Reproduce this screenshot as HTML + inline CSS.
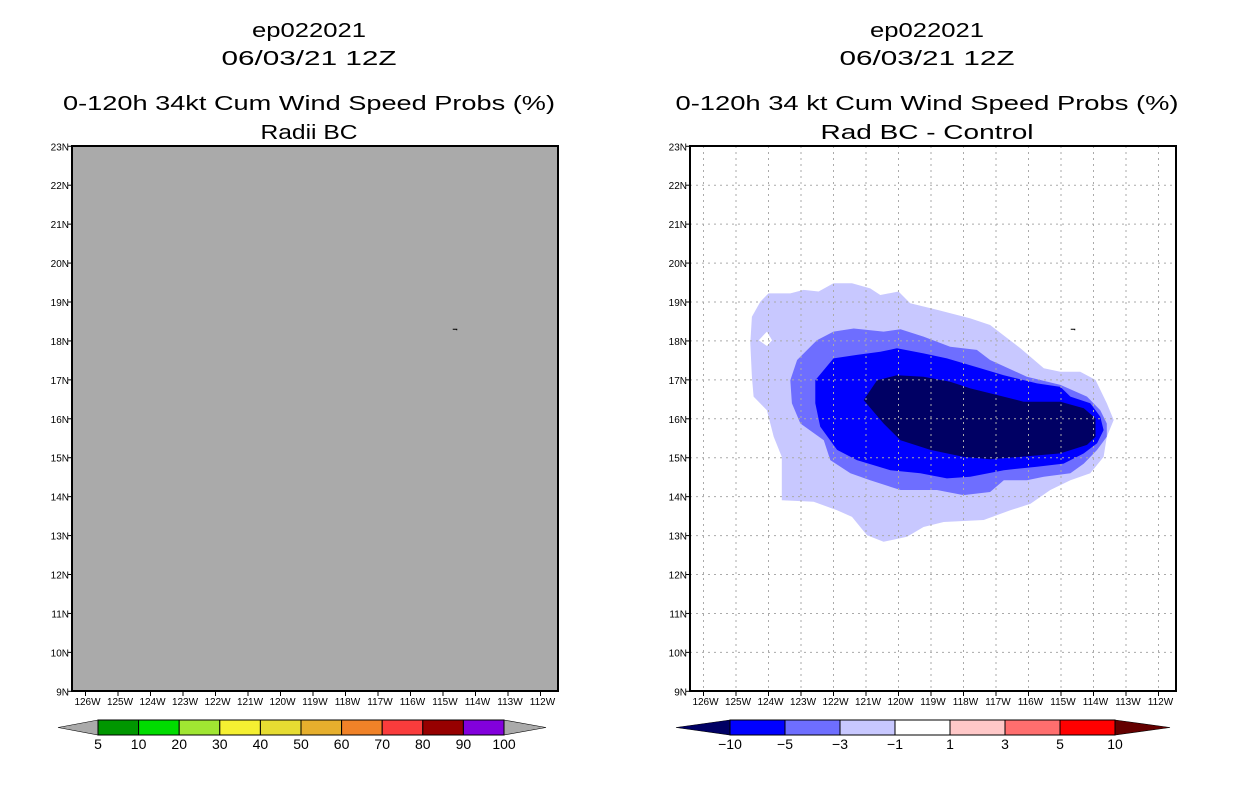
<!DOCTYPE html>
<html><head><meta charset="utf-8"><style>
body{margin:0;background:#fff;}
svg{display:block;font-family:"Liberation Sans",sans-serif;}
.t{font-size:20px;text-anchor:middle;fill:#000}
.ax{font-size:10px;fill:#000}
.cb{font-size:14px;text-anchor:middle;fill:#000}
</style></head><body>
<svg id="s" width="1236" height="800" viewBox="0 0 1236 800">
<g>
<text class="t" x="309" y="37" textLength="114" lengthAdjust="spacingAndGlyphs">ep022021</text>
<text class="t" x="309" y="65" textLength="175" lengthAdjust="spacingAndGlyphs">06/03/21 12Z</text>
<text class="t" x="309" y="110" textLength="492" lengthAdjust="spacingAndGlyphs">0-120h 34kt Cum Wind Speed Probs (%)</text>
<text class="t" x="309" y="139" textLength="97" lengthAdjust="spacingAndGlyphs">Radii BC</text>
</g>
<g>
<text class="t" x="927" y="37" textLength="114" lengthAdjust="spacingAndGlyphs">ep022021</text>
<text class="t" x="927" y="65" textLength="175" lengthAdjust="spacingAndGlyphs">06/03/21 12Z</text>
<text class="t" x="927" y="110" textLength="503" lengthAdjust="spacingAndGlyphs">0-120h 34 kt Cum Wind Speed Probs (%)</text>
<text class="t" x="927" y="139" textLength="213" lengthAdjust="spacingAndGlyphs">Rad BC - Control</text>
</g>
<g id="left"></g>
<g id="right"></g>
<g id="cbl"></g>
<g id="cbr"></g>
</svg>
<script>
const lonTicks=[126,125,124,123,122,121,120,119,118,117,116,115,114,113,112];
const latTicks=[9,10,11,12,13,14,15,16,17,18,19,20,21,22,23];
const stormLon=114.7, stormLat=18.3;
const lvl1Lon=[124.25,124.0,123.33,122.92,122.46,122.0,121.43,120.87,120.56,120.0,119.64,118.82,117.79,117.18,116.25,115.53,115.02,114.41,113.94,113.59,113.38,113.59,113.69,114.10,114.71,115.33,115.94,116.56,117.38,118.61,119.23,119.74,120.46,120.97,121.43,121.89,122.61,123.59,123.59,123.84,124.05,124.46,124.51,124.56,124.51];
const lvl1Lat=[19.01,19.22,19.22,19.31,19.27,19.48,19.48,19.35,19.18,19.27,18.97,18.80,18.58,18.41,17.81,17.30,17.21,17.21,17.0,16.40,15.97,15.54,15.02,14.60,14.42,14.17,13.82,13.65,13.40,13.35,13.22,12.97,12.84,13.01,13.48,13.65,13.87,13.91,15.02,15.54,16.22,16.57,17.08,17.94,18.62];
const holeLon=[124.30,124.05,123.89,124.05];
const holeLat=[18.02,18.24,18.02,17.87];
const lvl2Lon=[123.33,123.12,122.51,122.0,121.38,120.46,119.94,119.23,118.41,117.59,117.18,116.05,115.02,114.20,113.79,113.59,113.59,113.89,114.30,114.71,115.53,116.05,116.76,117.18,118.0,118.82,119.94,120.87,121.48,122.10,122.30,123.02,123.28];
const lvl2Lat=[16.99,17.51,18.02,18.24,18.32,18.24,18.30,18.11,17.85,17.77,17.51,17.08,16.87,16.57,16.22,15.88,15.54,15.20,14.85,14.60,14.51,14.42,14.42,14.12,14.04,14.17,14.17,14.42,14.60,14.94,15.45,15.88,16.40];
const lvl3Lon=[122.56,122.0,121.28,120.56,120.05,119.23,118.51,117.48,116.76,115.74,115.02,114.71,114.10,113.79,113.69,113.89,114.30,114.92,115.74,116.76,117.79,118.51,119.33,120.25,121.28,121.89,122.41,122.56];
const lvl3Lat=[16.99,17.55,17.64,17.72,17.81,17.68,17.55,17.30,17.12,16.91,16.82,16.57,16.40,16.05,15.71,15.37,15.11,14.85,14.77,14.68,14.51,14.47,14.60,14.68,14.94,15.20,15.80,16.40];
const lvl4Lon=[121.07,120.66,120.05,119.23,118.41,117.79,116.97,116.15,115.02,114.30,113.94,113.94,114.20,115.02,116.25,117.18,118.0,119.02,119.94,120.46];
const lvl4Lat=[16.48,16.99,17.12,17.08,16.95,16.78,16.61,16.44,16.44,16.27,16.01,15.54,15.33,15.11,15.02,14.96,15.02,15.20,15.45,15.88];
const leftCbLabels=["5","10","20","30","40","50","60","70","80","90","100"];
const leftCbColors=["#009600","#00dc00","#a0e632","#f5f032","#e6dc32","#e6af2d","#f08228","#fa3c3c","#960000","#8200dc"];
const rightCbLabels=["\u221210","\u22125","\u22123","\u22121","1","3","5","10"];
const rightCbColors=["#0000ff","#6e6eff","#c8c8ff","#ffffff","#ffc8c8","#ff6e6e","#ff0000"];

const NS="http://www.w3.org/2000/svg";
function mk(tag,at,par){const e=document.createElementNS(NS,tag);for(const k in at)e.setAttribute(k,at[k]);par.appendChild(e);return e;}
function panel(id,x0,isRight){
  const g=document.getElementById(id);
  const X=lon=>x0+176+(121-lon)*32.5;
  const Y=lat=>302+(19-lat)*38.93;
  const W=486,T=146,B=691;
  const bg=mk('rect',{x:x0,y:T,width:W,height:B-T,fill:isRight?'#fff':'#aaaaaa'},g);
  
  
  if(isRight){
    const clip=mk('clipPath',{id:'cp'},g);mk('rect',{x:x0,y:T,width:W,height:B-T},clip);
    const cg=mk('g',{'clip-path':'url(#cp)'},g);
    const poly=(lo,la)=>lo.map((v,i)=>X(v).toFixed(1)+','+Y(la[i]).toFixed(1)).join(' ');
    const p1=mk('path',{d:'M'+poly(lvl1Lon,lvl1Lat)+'Z M'+poly(holeLon,holeLat)+'Z',fill:'#c8c8ff','fill-rule':'evenodd'},cg);
    
    
    const p2=mk('polygon',{points:poly(lvl2Lon,lvl2Lat),fill:'#6e6eff'},cg);
    
    
    const p3=mk('polygon',{points:poly(lvl3Lon,lvl3Lat),fill:'#0000ff'},cg);
    
    
    const p4=mk('polygon',{points:poly(lvl4Lon,lvl4Lat),fill:'#000064'},cg);
    
    
    for(let lon=127;lon>=111;lon--){const x=X(lon);if(x>x0&&x<x0+W){const l=mk('line',{x1:x,x2:x,y1:T,y2:B,stroke:'#aaa','stroke-dasharray':'2,4'},cg);}}
    latTicks.forEach(la=>{const y=Y(la);if(y>T+1&&y<B-1){const l=mk('line',{x1:x0,x2:x0+W,y1:y,y2:y,stroke:'#aaa','stroke-dasharray':'2,4'},cg);}});
  }
  const mark=mk('path',{d:`M${X(stormLon)} ${Y(stormLat)}h4v1`,stroke:'#000',fill:'none','stroke-width':1},g);
  
  
  const fr=mk('rect',{x:x0,y:T,width:W,height:B-T,fill:'none',stroke:'#000','stroke-width':2},g);
  
  
  lonTicks.forEach(lo=>{const x=X(lo);mk('line',{x1:x,x2:x,y1:B,y2:B+5,stroke:'#000'},g);
    const t=mk('text',{x:x+2,y:B+14,class:'ax','text-anchor':'middle'},g);t.textContent=lo+'W';
    });
  latTicks.forEach(la=>{const y=Y(la);mk('line',{x1:x0-4,x2:x0,y1:y,y2:y,stroke:'#000'},g);
    const t=mk('text',{x:x0-3,y:y+4,class:'ax','text-anchor':'end'},g);t.textContent=la+'N';
    });
}
panel('left',72,false);
panel('right',690,true);

function colorbar(id,x1,x2,xl,xr,cols,labels,lc,rc){
  const g=document.getElementById(id);const y=720,h=15,n=cols.length,w=(x2-x1)/n;
  const tl=mk('polygon',{points:`${x1},${y} ${xl},${y+h/2} ${x1},${y+h}`,fill:lc,stroke:'#000','stroke-width':0.6},g);
  
  const tr=mk('polygon',{points:`${x2},${y} ${xr},${y+h/2} ${x2},${y+h}`,fill:rc,stroke:'#000','stroke-width':0.6},g);
  
  cols.forEach((c,i)=>{const r=mk('rect',{x:x1+i*w,y:y,width:w,height:h,fill:c,stroke:'#000','stroke-width':1},g);
    });
  labels.forEach((l,i)=>{const t=mk('text',{x:x1+i*w,y:y+h+14,class:'cb'},g);t.textContent=l;
    });
}
colorbar('cbl',98,504,58,546,leftCbColors,leftCbLabels,'#aaaaaa','#aaaaaa');
colorbar('cbr',730,1115,676,1170,rightCbColors,rightCbLabels,'#000064','#640000');
</script>
</body></html>
